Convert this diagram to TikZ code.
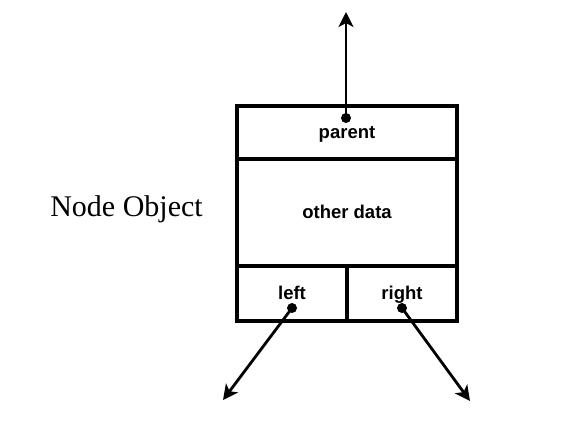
\documentclass[tikz,border=0pt]{standalone}
\usepackage{fontspec}
\setmainfont{Liberation Serif}
\setsansfont{Liberation Sans}
\usetikzlibrary{arrows.meta}

\begin{document}
\begin{tikzpicture}[
    x=1pt, y=-1pt,
    cell/.style = {rectangle, draw=black, line width=3.5pt,
inner sep=0pt, outer sep=0pt, minimum width=220pt,
text height=14pt, text depth=2pt,
text centered, font=\sffamily\bfseries\fontsize{18.5}{20}\selectfont},
    half/.style = {cell, minimum width=110pt, minimum height=55pt},
    link/.style = {line width=2.8pt, -{Stealth[length=15pt,width=15pt,inset=4pt]}},
    dot/.style = {circle, fill=black, inner sep=0pt, minimum size=10pt}
]
  \useasboundingbox (0,0) rectangle (580,423);

  \node (parent) [cell, minimum height=53pt] at (347,132.5) {parent};
  \node (other)  [cell, minimum height=107pt] at (347,212.5) {other data};
  \node (left)   [half, minimum height=55pt] at (292,293.5) {left};
  \node (right)  [half, minimum height=55pt] at (402,293.5) {right};

  \node (title) [font=\fontsize{30}{32}\selectfont] at (126.5,209) {Node Object};

  \node (pdot) [dot] at (346,118) {};
  \node (ldot) [dot] at (292,308) {};
  \node (rdot) [dot] at (402,308) {};

  \coordinate (up)    at (346,12);
  \coordinate (down1) at (223,400);
  \coordinate (down2) at (470,401);

  \draw[link] (pdot.center) -- (up);
  \draw[link] (ldot.center) -- (down1);
  \draw[link] (rdot.center) -- (down2);

\end{tikzpicture}
\end{document}
